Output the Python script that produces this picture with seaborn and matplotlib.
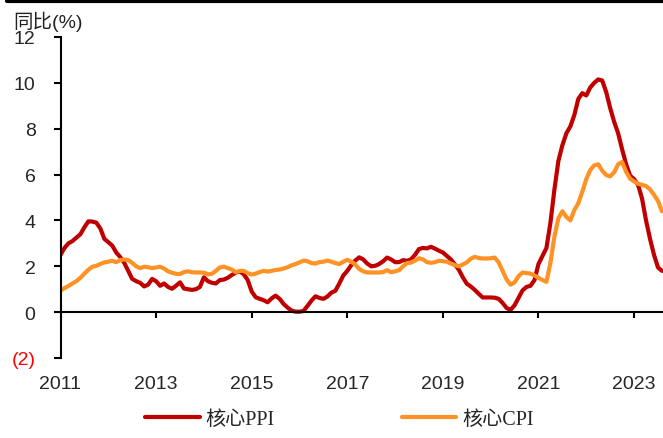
import numpy as np
import pandas as pd
import matplotlib
matplotlib.use("Agg")
import matplotlib.pyplot as plt
from matplotlib.lines import Line2D
import seaborn as sns

# ---- data (monthly, Jan 2011 - Aug 2023, YoY %) ----
start_year = 2011
core_ppi = [
    2.5, 2.8, 3.0, 3.1, 3.25, 3.4, 3.7, 3.96, 3.95, 3.9, 3.65, 3.2,
    3.05, 2.9, 2.6, 2.4, 2.15, 1.8, 1.45, 1.35, 1.28, 1.12, 1.2, 1.45,
    1.35, 1.15, 1.25, 1.1, 1.02, 1.15, 1.3, 1.03, 1.0, 0.97, 1.0, 1.1,
    1.52, 1.35, 1.28, 1.25, 1.4, 1.42, 1.5, 1.62, 1.72, 1.78, 1.65, 1.4,
    0.9, 0.65, 0.58, 0.52, 0.43, 0.6, 0.72, 0.58, 0.36, 0.2, 0.07, 0.02,
    0.02, 0.05, 0.27, 0.5, 0.69, 0.62, 0.58, 0.68, 0.85, 0.93, 1.25, 1.6,
    1.8, 2.05, 2.25, 2.39, 2.3, 2.12, 2.0, 2.02, 2.1, 2.22, 2.38, 2.3,
    2.18, 2.18, 2.27, 2.24, 2.3, 2.5, 2.75, 2.8, 2.78, 2.85, 2.77, 2.68,
    2.6, 2.45, 2.3, 2.08, 1.85, 1.52, 1.24, 1.12, 0.97, 0.8, 0.64, 0.64,
    0.64, 0.63, 0.58, 0.4, 0.18, 0.1, 0.3, 0.62, 0.95, 1.1, 1.15, 1.4,
    2.1, 2.45, 2.8, 3.9, 5.35, 6.6, 7.28, 7.8, 8.1, 8.6, 9.3, 9.55,
    9.45, 9.8, 10.0, 10.15, 10.1, 9.6, 8.9, 8.3, 7.8, 7.1, 6.45, 5.95,
    5.8, 5.55, 4.95, 4.0, 3.2, 2.5, 1.95, 1.8,
]
core_cpi = [
    0.93, 1.05, 1.14, 1.25, 1.35, 1.5, 1.68, 1.85, 1.98, 2.02, 2.1, 2.17,
    2.2, 2.24, 2.18, 2.27, 2.3, 2.27, 2.15, 2.0, 1.92, 1.98, 1.96, 1.92,
    1.95, 1.98, 1.9, 1.78, 1.72, 1.67, 1.66, 1.75, 1.78, 1.74, 1.73, 1.73,
    1.72, 1.65, 1.67, 1.8, 1.95, 1.98, 1.92, 1.86, 1.74, 1.8, 1.8, 1.7,
    1.64, 1.68, 1.75, 1.8, 1.77, 1.8, 1.84, 1.86, 1.9, 1.96, 2.04, 2.1,
    2.17, 2.25, 2.22, 2.14, 2.12, 2.18, 2.2, 2.25, 2.2, 2.14, 2.1, 2.2,
    2.28, 2.2, 2.08, 1.88, 1.78, 1.73, 1.73, 1.73, 1.73, 1.75, 1.83, 1.74,
    1.78, 1.83, 2.0, 2.14, 2.16, 2.25, 2.35, 2.3, 2.18, 2.15, 2.18, 2.24,
    2.22, 2.2, 2.12, 2.05, 2.0, 2.08, 2.17, 2.33, 2.41, 2.36, 2.34, 2.34,
    2.35, 2.38, 2.17, 1.8, 1.42, 1.2, 1.3, 1.57, 1.73, 1.7, 1.68, 1.6,
    1.5, 1.4, 1.32, 2.15, 3.3, 4.1, 4.4, 4.15, 4.0, 4.45, 4.75, 5.25,
    5.8, 6.2, 6.4, 6.45, 6.17, 5.98, 5.92, 6.1, 6.45, 6.55, 6.12, 5.82,
    5.7, 5.6, 5.55, 5.5, 5.35, 5.12, 4.85, 4.4,
]
series_names = ["核心PPI", "核心CPI"]
x_ticks = [2011, 2013, 2015, 2017, 2019, 2021, 2023]
y_ticks = [-2, 0, 2, 4, 6, 8, 10, 12]
y_tick_labels = ["(2)", "0", "2", "4", "6", "8", "10", "12"]
y_title = "同比(%)"

n = len(core_ppi)
t = start_year + np.arange(n) / 12.0
df = pd.DataFrame({
    "t": np.concatenate([t, t]),
    "v": np.concatenate([core_ppi, core_cpi]),
    "s": [series_names[0]] * n + [series_names[1]] * n,
})

sns.set_style("white")
plt.rcParams["font.family"] = ["Liberation Sans", "Noto Sans CJK SC"]

fig = plt.figure(figsize=(6.63, 4.39), dpi=100)
ax = fig.add_axes([60.5 / 663, 1 - 359 / 439, 1 - 60.5 / 663, (359 - 38) / 439])

palette = {series_names[0]: "#C00000", series_names[1]: "#FF9224"}
sns.lineplot(data=df, x="t", y="v", hue="s", palette=palette, linewidth=3.0,
             ax=ax, legend=False, solid_joinstyle="round", solid_capstyle="round")

ax.set_xlim(start_year, start_year + 12.605)
ax.set_ylim(-2, 12)
ax.set_xlabel("")
ax.set_ylabel("")

for s in ["top", "right"]:
    ax.spines[s].set_visible(False)
ax.spines["left"].set_linewidth(1.5)
ax.spines["bottom"].set_linewidth(1.5)
ax.spines["left"].set_color("black")
ax.spines["bottom"].set_color("black")
ax.spines["bottom"].set_position(("data", 0))

ax.set_xticks(x_ticks)
ax.set_xticklabels([str(v) for v in x_ticks], fontsize=14)
ax.set_yticks(y_ticks)
ax.set_yticklabels(y_tick_labels, fontsize=14)
ax.tick_params(axis="y", which="major", left=True, direction="out", length=5,
               width=1.5, pad=13, color="black")
ax.tick_params(axis="x", which="major", bottom=True, direction="out", length=4.5,
               width=1.5, pad=41, color="black")
for lbl in ax.get_yticklabels():
    if lbl.get_text() == "(2)":
        lbl.set_color("red")

fig.text(13 / 663, 1 - 12 / 439, y_title, ha="left", va="top", fontsize=14,
         color="#222222")

# top rule
fig.add_artist(Line2D([0.01, 1.0], [0.996, 0.996], color="black", lw=3,
                      transform=fig.transFigure))

handles = [Line2D([0], [0], color=palette[k], lw=3) for k in series_names]
fig.legend(handles, series_names, loc="center", bbox_to_anchor=(0.512, 0.043),
           ncol=2, frameon=False, handlelength=2.7, handletextpad=0.3,
           columnspacing=6.3,
           prop={"family": ["Liberation Serif", "Noto Sans CJK SC"], "size": 14.5})

fig.savefig("out.png", dpi=100)
